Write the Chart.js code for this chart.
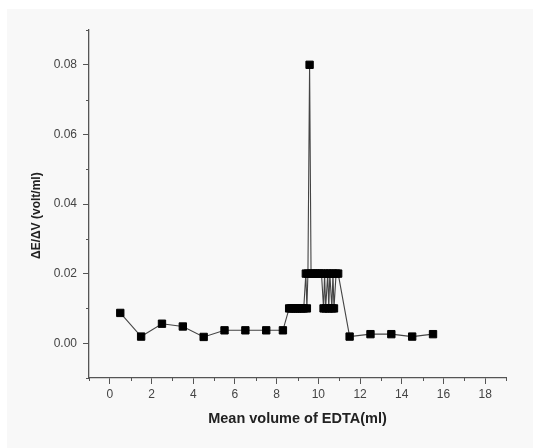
<!DOCTYPE html>
<html>
<head>
<meta charset="utf-8">
<script src="https://cdn.jsdelivr.net/npm/chart.js@4/dist/chart.umd.min.js"></script>
<style>
  html, body { margin: 0; padding: 0; background: #fff; }
  #wrap { position: relative; width: 533px; height: 448px; }
</style>
</head>
<body>
<div id="wrap"><canvas id="chart" width="533" height="448"></canvas></div>
<script>
// mean volume of EDTA (ml) and dE/dV (volt/ml)
var volumes = [0.5, 1.5, 2.5, 3.5, 4.5, 5.5, 6.5, 7.5, 8.3,
  8.6, 8.7, 8.8, 8.9, 9.0, 9.1, 9.2, 9.3, 9.4, 9.45, 9.5, 9.58,
  9.65, 9.75, 9.85, 9.95, 10.05, 10.15, 10.25, 10.3, 10.35, 10.45,
  10.5, 10.55, 10.65, 10.7, 10.75, 10.85, 10.95,
  11.5, 12.5, 13.5, 14.5, 15.5]
var slopes = [0.0087, 0.0019, 0.0056, 0.0048, 0.0018, 0.0037, 0.0037, 0.0037, 0.0037,
  0.01, 0.01, 0.01, 0.01, 0.01, 0.01, 0.01, 0.01, 0.02, 0.01, 0.02, 0.08,
  0.02, 0.02, 0.02, 0.02, 0.02, 0.02, 0.01, 0.02, 0.01, 0.02,
  0.01, 0.02, 0.01, 0.02, 0.01, 0.02, 0.02,
  0.0019, 0.0026, 0.0026, 0.0019, 0.0026]

var xTickLabels = ['0', '2', '4', '6', '8', '10', '12', '14', '16', '18']
var yTickLabels = ['0.00', '0.02', '0.04', '0.06', '0.08']

var axisColor = '#555'
var labelColor = '#444'

function xLabel (v) {
  var s = String(Math.round(v))
  return xTickLabels.indexOf(s) >= 0 ? s : ''
}
function yLabel (v) {
  var s = v.toFixed(2)
  if (s === '-0.00') s = '0.00'
  return yTickLabels.indexOf(s) >= 0 ? s : ''
}

var background = {
  id: 'background',
  beforeDraw: function (chart) {
    var ctx = chart.ctx
    ctx.save()
    ctx.fillStyle = '#fff'
    ctx.fillRect(0, 0, chart.width, chart.height)
    ctx.fillStyle = '#f8f8f8'
    ctx.fillRect(7, 9, chart.width - 7, chart.height - 9)
    ctx.restore()
  }
}

// short minor tick marks between the labelled ones
var minorTicks = {
  id: 'minorTicks',
  afterDraw: function (chart) {
    var ctx = chart.ctx
    var area = chart.chartArea
    var xs = chart.scales.x
    var ys = chart.scales.y
    ctx.save()
    ctx.strokeStyle = axisColor
    ctx.lineWidth = 1
    xs.ticks.forEach(function (t) {
      if (xLabel(t.value) !== '') return
      var px = Math.round(xs.getPixelForValue(t.value)) + 0.5
      ctx.beginPath()
      ctx.moveTo(px, area.bottom)
      ctx.lineTo(px, area.bottom + 3)
      ctx.stroke()
    })
    ys.ticks.forEach(function (t) {
      if (yLabel(t.value) !== '') return
      var py = Math.round(ys.getPixelForValue(t.value)) + 0.5
      ctx.beginPath()
      ctx.moveTo(area.left, py)
      ctx.lineTo(area.left - 3, py)
      ctx.stroke()
    })
    ctx.restore()
  }
}

var points = volumes.map(function (v, i) {
  return { x: v, y: slopes[i] }
})

new Chart(document.getElementById('chart'), {
  type: 'scatter',
  data: {
    datasets: [{
      data: points,
      showLine: true,
      borderColor: '#444',
      borderWidth: 1.1,
      pointStyle: 'rect',
      pointRadius: 5.2,
      pointHoverRadius: 5.2,
      pointBackgroundColor: '#000',
      pointBorderColor: '#000',
      pointBorderWidth: 1
    }]
  },
  options: {
    responsive: false,
    animation: false,
    devicePixelRatio: 1,
    layout: { padding: { top: 30, right: 27, bottom: 0, left: 0 } },
    plugins: {
      legend: { display: false },
      tooltip: { enabled: false }
    },
    scales: {
      x: {
        type: 'linear',
        min: -1,
        max: 19,
        afterFit: function (scale) { scale.height = 70 },
        border: { display: true, color: axisColor, width: 1.3 },
        grid: {
          drawOnChartArea: false,
          tickLength: 6,
          tickWidth: 1,
          tickColor: function (c) { return xLabel(c.tick.value) ? axisColor : 'transparent' }
        },
        ticks: {
          stepSize: 1,
          autoSkip: false,
          maxRotation: 0,
          padding: 3,
          color: labelColor,
          font: { family: 'Liberation Sans, Arial, sans-serif', size: 12 },
          callback: function (v) { return xLabel(v) }
        },
        title: {
          display: true,
          text: 'Mean volume of EDTA(ml)',
          color: '#222',
          padding: { top: 0, bottom: 20 },
          font: { family: 'Liberation Sans, Arial, sans-serif', size: 14.5, weight: 'bold' }
        }
      },
      y: {
        type: 'linear',
        min: -0.01,
        max: 0.09,
        afterFit: function (scale) { scale.width = 89 },
        border: { display: true, color: axisColor, width: 1.3 },
        grid: {
          drawOnChartArea: false,
          tickLength: 6,
          tickWidth: 1,
          tickColor: function (c) { return yLabel(c.tick.value) ? axisColor : 'transparent' }
        },
        ticks: {
          stepSize: 0.01,
          autoSkip: false,
          padding: 6,
          color: labelColor,
          font: { family: 'Liberation Sans, Arial, sans-serif', size: 12 },
          callback: function (v) { return yLabel(v) }
        },
        title: {
          display: true,
          text: '\u0394E/\u0394V (volt/ml)       ',
          color: '#222',
          padding: { top: 29, bottom: 0 },
          font: { family: 'Liberation Sans, Arial, sans-serif', size: 12, weight: 'bold' }
        }
      }
    }
  },
  plugins: [background, minorTicks]
})
</script>
</body>
</html>
